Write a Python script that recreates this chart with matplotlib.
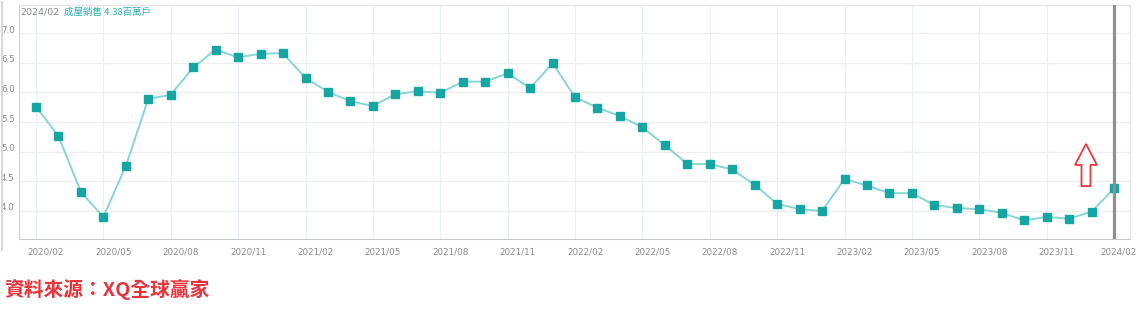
import matplotlib
matplotlib.use("Agg")
import matplotlib.pyplot as plt
import matplotlib.transforms as mtransforms
from matplotlib.patches import FancyArrow

plt.rcParams['font.family'] = ['DejaVu Sans', 'Noto Sans CJK TC']

months = ["2020/02", "2020/03", "2020/04", "2020/05", "2020/06", "2020/07", "2020/08",
          "2020/09", "2020/10", "2020/11", "2020/12", "2021/01", "2021/02", "2021/03",
          "2021/04", "2021/05", "2021/06", "2021/07", "2021/08", "2021/09", "2021/10",
          "2021/11", "2021/12", "2022/01", "2022/02", "2022/03", "2022/04", "2022/05",
          "2022/06", "2022/07", "2022/08", "2022/09", "2022/10", "2022/11", "2022/12",
          "2023/01", "2023/02", "2023/03", "2023/04", "2023/05", "2023/06", "2023/07",
          "2023/08", "2023/09", "2023/10", "2023/11", "2023/12", "2024/01", "2024/02"]
sales = [5.76, 5.26, 4.32, 3.90, 4.76, 5.89, 5.96, 6.42, 6.72, 6.59, 6.65, 6.66,
         6.24, 6.01, 5.85, 5.77, 5.97, 6.02, 5.99, 6.18, 6.18, 6.32, 6.07, 6.49,
         5.92, 5.74, 5.60, 5.41, 5.11, 4.79, 4.79, 4.70, 4.44, 4.12, 4.03, 4.00,
         4.54, 4.43, 4.30, 4.30, 4.10, 4.05, 4.03, 3.97, 3.84, 3.90, 3.87, 3.99, 4.38]
y_ticks = [4.0, 4.5, 5.0, 5.5, 6.0, 6.5, 7.0]
tick_step = 3
header_date = "2024/02"
header_label = "成屋銷售 4.38百萬戶"
source_text = "資料來源：XQ全球贏家"

W, H = 1136, 310
fig = plt.figure(figsize=(W / 100, H / 100), dpi=100)
ax = fig.add_axes([19 / W, 71 / H, (1130 - 19) / W, (239 - 5) / H])

x = list(range(len(months)))
ax.plot(x, sales, color="#86d6d3", lw=1.4, zorder=3)
ax.plot(x, sales, ls="none", marker="s", ms=5.2, color="#15a5a2",
        markeredgecolor="#15a5a2", zorder=4)

ax.set_xlim(-0.757, 48.71)
ax.set_ylim(3.528, 7.472)

tick_pos = x[::tick_step]
ax.set_xticks(tick_pos)
ax.set_xticklabels([months[i] for i in tick_pos])
ax.set_yticks(y_ticks)
ax.set_yticklabels([f"{v:.1f}" for v in y_ticks])

ax.tick_params(axis="x", length=0, pad=6, labelsize=6.3, labelcolor="#8a8a8a")
ax.tick_params(axis="y", length=0, pad=3, labelsize=6.3, labelcolor="#8a8a8a")
xlabels = ax.get_xticklabels()
for i, lbl in enumerate(xlabels):
    dx = 10 if i < len(xlabels) - 1 else 4
    off = mtransforms.ScaledTranslation(dx / 100, 0, fig.dpi_scale_trans)
    lbl.set_transform(lbl.get_transform() + off)
offy = mtransforms.ScaledTranslation(0, 4 / 100, fig.dpi_scale_trans)
for lbl in ax.get_yticklabels():
    lbl.set_transform(lbl.get_transform() + offy)

for v in y_ticks:
    ax.axhline(v, color="#eeeeee", lw=0.9, zorder=1)
for p in tick_pos:
    ax.axvline(p, color="#e2f2f8", lw=0.9, zorder=1)

for s in ["top", "right"]:
    ax.spines[s].set_color("#e4e4e4")
    ax.spines[s].set_linewidth(0.8)
ax.spines["left"].set_color("#d0d0d0")
ax.spines["bottom"].set_color("#c8c8c8")
ax.spines["left"].set_linewidth(0.8)
ax.spines["bottom"].set_linewidth(0.8)

ax.axvline(x[-1], color="#8f8f8f", lw=2.3, zorder=5)

arrow = FancyArrow(46.75, 4.42, 0, 0.71, width=0.4, head_width=0.98,
                   head_length=0.354, length_includes_head=True,
                   facecolor="white", edgecolor="#ea3a40", lw=1.3, zorder=6)
ax.add_patch(arrow)

fig.text(20 / W, 1 - 12 / H, header_date, color="#8a8a8a", fontsize=6.8,
         va="center", ha="left")
fig.text(64 / W, 1 - 12 / H, header_label, color="#2ab0ad", fontsize=6.8,
         va="center", ha="left", family=["Noto Sans CJK TC", "DejaVu Sans"])

fig.text(4 / W, 1 - 290 / H, source_text, color="#e8333a", fontsize=14.2,
         fontweight="bold", va="center", ha="left",
         family=["Noto Sans CJK TC", "DejaVu Sans"])

fig.add_artist(plt.Line2D([2 / W, 2 / W], [1 - 2 / H, 1 - 250 / H],
                          transform=fig.transFigure, color="#d8d8d8", lw=1.5))

fig.savefig("out.png", dpi=100, facecolor="white")
